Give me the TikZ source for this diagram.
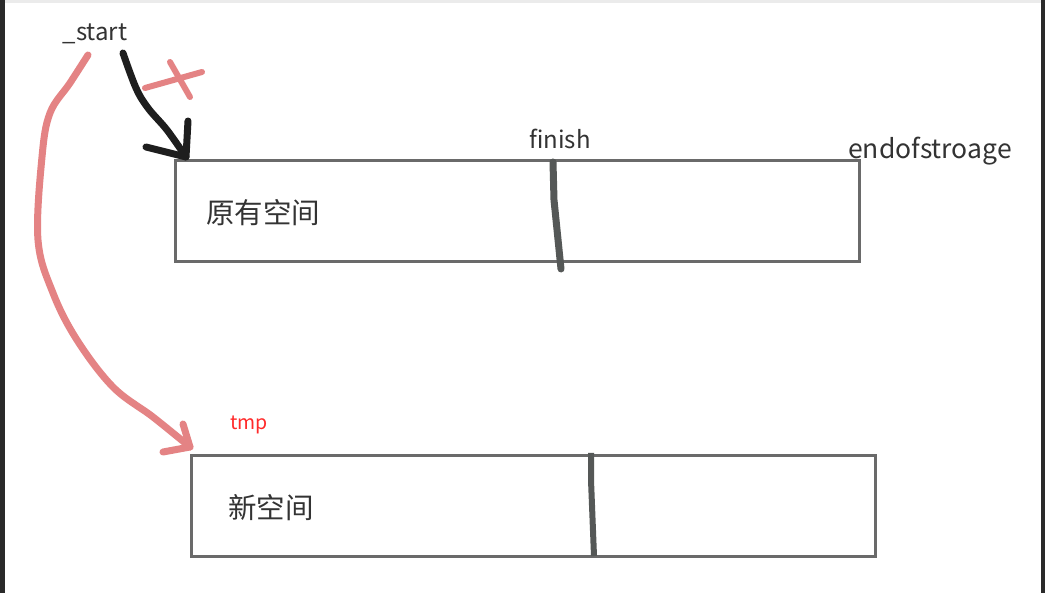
\documentclass[tikz,border=0pt]{standalone}
\usepackage{fontspec}
\setmainfont{Noto Sans CJK SC}
\begin{document}
\begin{tikzpicture}[x=1pt,y=-1pt,
  membox/.style={draw=boxgray,line width=2.6pt,minimum width=#1,minimum height=101pt,inner sep=0pt,anchor=north west},
  lbl/.style={text=labelgray,inner sep=0pt,font=\fontsize{24}{26}\selectfont},
  cjk/.style={text=labelgray,inner sep=0pt,font=\fontsize{28.5}{30}\selectfont},
  pen/.style={line width=7pt,line cap=round,line join=round},
  divider/.style={draw=divgray,line width=6pt,line cap=round,line join=round}]
\definecolor{boxgray}{HTML}{6A6A6A}
\definecolor{divgray}{HTML}{555857}
\definecolor{labelgray}{HTML}{333333}
\definecolor{penred}{HTML}{E48384}
\definecolor{penblack}{HTML}{1E1E1E}
\definecolor{tmpred}{HTML}{FF2A2A}
\definecolor{edgedark}{HTML}{2A2A2A}
\useasboundingbox (0,0) rectangle (1045,593);
\fill[white] (0,0) rectangle (1045,593);
% screenshot edges
\fill[edgedark] (0,0) rectangle (5,593);
\fill[edgedark] (1041,0) rectangle (1045,593);
\fill[black!8] (5,0) rectangle (1041,3);
% boxes
\node[membox=684pt] (old) at (174,159) {};
\node[membox=684pt] (new) at (190,454) {};
% labels
\node[lbl] (start) at (95,34) {\_start};
\node[lbl] (finish) at (560,139) {finish};
\node[lbl,font=\fontsize{26.5}{28}\selectfont] (eos) at (930,151) {endofstroage};
\node[text=tmpred,inner sep=0pt,font=\fontsize{19.5}{21}\selectfont] (tmp) at (249,425) {tmp};
\node[cjk,anchor=west] (oldtxt) at (206,213) {原有空间};
\node[cjk,anchor=west] (newtxt) at (228,508) {新空间};
% dividers
\draw[divider,line width=7pt] (553,162) -- (554,200) -- (561,269);
\draw[divider,line cap=butt] (591,453) -- (591,480) -- (594,556);
% black arrow (crossed out)
\coordinate (bA) at (123,53);
\coordinate (bT) at (186,157);
\draw[pen,penblack] plot[smooth,tension=0.6] coordinates {(bA) (136,88) (148,108) (167,130) (bT)};
\draw[pen,penblack] (188,121) -- (bT) -- (146,147);
% red cross
\draw[pen,penred,line width=6pt] (145,88) -- (202,72);
\draw[pen,penred,line width=6pt] (170,62) -- (190,97);
% red arrow
\coordinate (rA) at (88,55);
\coordinate (rT) at (190,447);
\draw[pen,penred] plot[smooth,tension=0.6] coordinates {(rA) (70,83) (50,113) (42,157) (38,240) (53,293) (77,340) (113,387) (153,417) (rT)};
\draw[pen,penred] (183,424) -- (rT) -- (163,452);
\end{tikzpicture}
\end{document}
